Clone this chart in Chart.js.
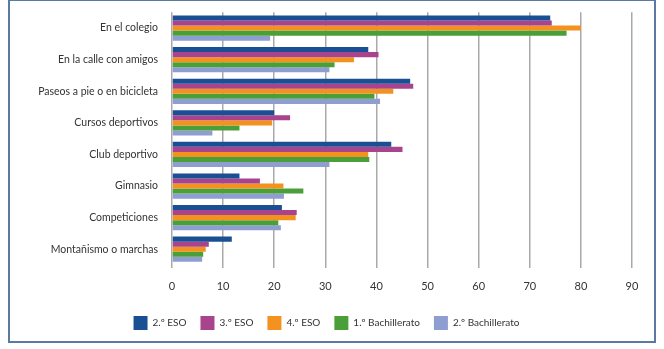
<!DOCTYPE html>
<html>
<head>
<meta charset="utf-8">
<script src="https://cdn.jsdelivr.net/npm/chart.js@4/dist/chart.umd.min.js"></script>
<style>
	html, body { margin: 0; padding: 0; background: #fff; }
	#wrap { position: relative; width: 664px; height: 349px; }
	#frame {
		position: absolute; left: 8px; top: -1px; width: 644px; height: 340px;
		border: 2px solid #5b7aa3; pointer-events: none;
	}
	canvas { position: absolute; left: 0; top: 0; }
</style>
</head>
<body>
<div id="wrap">
	<canvas id="chart" width="664" height="349"></canvas>
	<div id="frame"></div>
</div>
<script>
const categories = ['En el colegio', 'En la calle con amigos', 'Paseos a pie o en bicicleta',
	'Cursos deportivos', 'Club deportivo', 'Gimnasio', 'Competiciones', 'Montañismo o marchas'];
const eso2 = [74, 38.4, 46.6, 20, 42.9, 13.2, 21.5, 11.7];
const eso3 = [74.3, 40.4, 47.2, 23.1, 45.1, 17.2, 24.4, 7.2];
const eso4 = [80, 35.6, 43.3, 19.6, 38.4, 21.8, 24.2, 6.6];
const bach1 = [77.2, 31.8, 39.6, 13.2, 38.6, 25.7, 20.8, 6.1];
const bach2 = [19.2, 30.8, 40.7, 7.9, 30.8, 21.9, 21.3, 5.9];
const seriesNames = ['2.º ESO', '3.º ESO', '4.º ESO', '1.º Bachillerato', '2.º Bachillerato'];
const seriesColors = ['#1b4f93', '#a8438e', '#f3921f', '#4a9f39', '#8e9ed0'];
const xTicks = [0, 10, 20, 30, 40, 50, 60, 70, 80, 90];

const font = "'Lato', sans-serif";
const allSeries = [eso2, eso3, eso4, bach1, bach2];

new Chart(document.getElementById('chart'), {
	type: 'bar',
	data: {
		labels: categories,
		datasets: allSeries.map((d, i) => ({
			label: seriesNames[i],
			data: d,
			backgroundColor: seriesColors[i],
			categoryPercentage: 0.8,
			barPercentage: 1.0
		}))
	},
	options: {
		indexAxis: 'y',
		responsive: false,
		animation: false,
		layout: { padding: { top: 10, right: 32, bottom: 9, left: 21 } },
		plugins: {
			tooltip: { enabled: false },
			legend: {
				position: 'bottom',
				labels: {
					boxWidth: 14, boxHeight: 14, padding: 14,
					color: '#333', font: { family: font, size: 10 }
				}
			}
		},
		scales: {
			x: {
				min: 0, max: 90,
				afterBuildTicks: s => { s.ticks = xTicks.map(v => ({ value: v })); },
				afterFit: s => { s.height = 37; },
				grid: { color: '#a9a9a9', lineWidth: 1.5, tickLength: 3 },
				border: { display: false },
				ticks: { color: '#333', padding: 12, font: { family: font, size: 11 } }
			},
			y: {
				afterFit: s => { s.width = 151; },
				grid: { display: false },
				border: { display: false },
				ticks: { color: '#333', padding: 6, font: { family: font, size: 10.5 } }
			}
		}
	}
});
</script>
</body>
</html>
